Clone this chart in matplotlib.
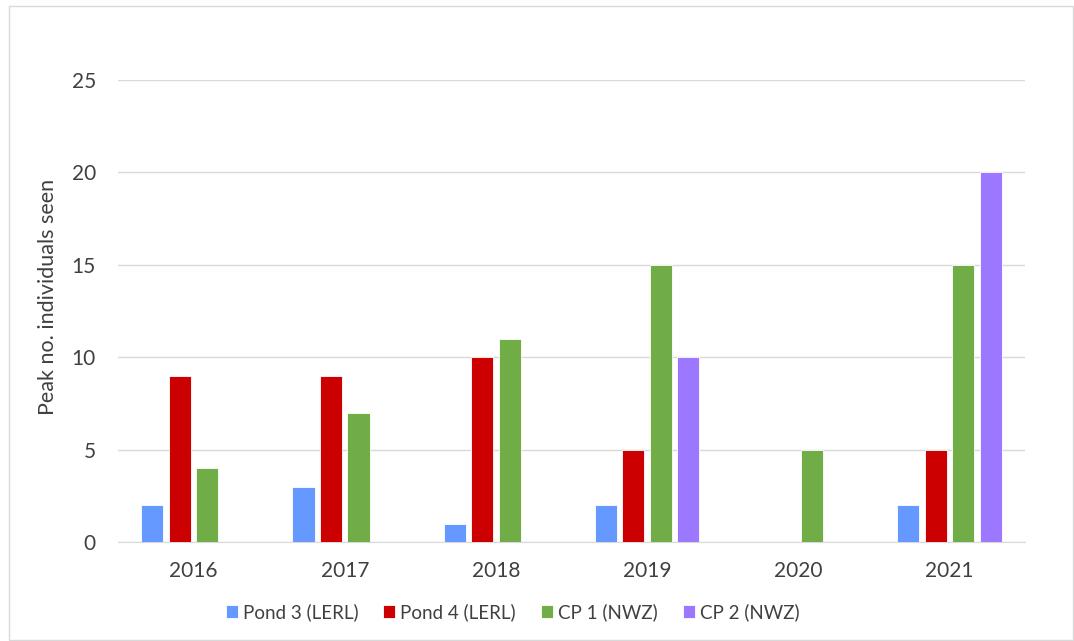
import matplotlib
matplotlib.use("Agg")
import matplotlib.pyplot as plt
import numpy as np
from matplotlib.patches import Rectangle

years = ["2016", "2017", "2018", "2019", "2020", "2021"]
series_names = ["Pond 3 (LERL)", "Pond 4 (LERL)", "CP 1 (NWZ)", "CP 2 (NWZ)"]
pond3 = [2, 3, 1, 2, 0, 2]
pond4 = [9, 9, 10, 5, 0, 5]
cp1 = [4, 7, 11, 15, 5, 15]
cp2 = [0, 0, 0, 10, 0, 20]
colors = ["#6699FF", "#CC0000", "#70AD47", "#9C77FF"]

plt.rcParams['font.family'] = ['Lato', 'DejaVu Sans']
txt = "#404040"

fig = plt.figure(figsize=(10.74, 6.41), dpi=100)
fig.patches.append(Rectangle((9/1074, 0.002), 1 - 9/1074 - 0.001, 1 - 6/641 - 0.002,
                             transform=fig.transFigure, fill=False,
                             edgecolor="#D9D9D9", linewidth=1))
ax = fig.add_axes([118/1074, 1 - 542/641, (1025 - 118)/1074, (542 - 80)/641])

x = np.arange(len(years))
step = 0.182
width = 0.146
data = [pond3, pond4, cp1, cp2]
for i, (vals, name, c) in enumerate(zip(data, series_names, colors)):
    ax.bar(x + (i - 1.5) * step, vals, width, color=c, label=name,
           edgecolor="white", linewidth=0.6, zorder=3)

ax.set_xlim(-0.5, len(years) - 0.5)
ax.set_ylim(0, 25)
ax.set_yticks(range(0, 26, 5))
ax.set_xticks(x)
ax.set_xticklabels(years)
ax.yaxis.grid(True, color="#D9D9D9", linewidth=1, zorder=0)
for s in ["top", "right", "left"]:
    ax.spines[s].set_visible(False)
ax.spines["bottom"].set_color("#D9D9D9")
ax.tick_params(axis="both", length=0, labelsize=15, colors=txt)
ax.tick_params(axis="x", pad=14)
ax.tick_params(axis="y", pad=16)
ax.set_ylabel("Peak no. individuals seen", fontsize=15.5, color=txt)
ax.yaxis.set_label_coords(-0.066, 0.53)

leg = ax.legend(loc="center", bbox_to_anchor=(0.435, -0.1515), ncol=4, frameon=False,
                fontsize=13.5, handlelength=0.64, handleheight=0.64, handletextpad=0.27,
                columnspacing=1.33, labelcolor=txt, borderpad=0, borderaxespad=0)

fig.savefig("out.png", dpi=100)
